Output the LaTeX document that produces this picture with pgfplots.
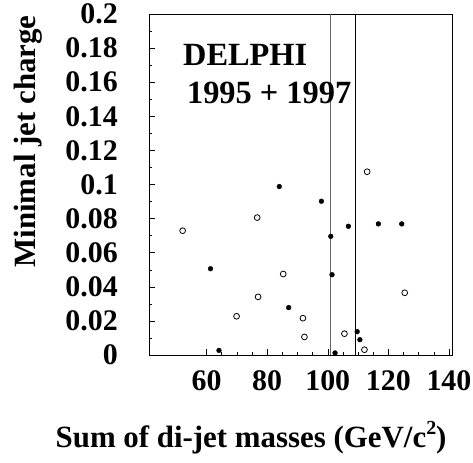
\documentclass[border=0pt]{standalone}
\usepackage{fontspec}
\setmainfont{Liberation Serif}
\usepackage{pgfplots}
\pgfplotsset{compat=1.18}
\begin{document}
\begin{tikzpicture}
\begin{axis}[
  scale only axis,
  width=303bp, height=341bp,
  xmin=41, xmax=141, ymin=0, ymax=0.2,
  xtick={60,80,100,120,140},
  xticklabels={60,80,100,120,140},
  minor x tick num=3,
  ytick={0,0.02,0.04,0.06,0.08,0.1,0.12,0.14,0.16,0.18,0.2},
  yticklabels={0,0.02,0.04,0.06,0.08,0.1,0.12,0.14,0.16,0.18,0.2},
  minor y tick num=1,
  xtick pos=bottom, ytick pos=left,
  tick align=inside,
  major tick length=6bp, minor tick length=3bp,
  tick style={black, line width=0.5pt},
  axis line style={line width=0.9pt},
  every tick label/.append style={font=\fontsize{30}{34}\selectfont\bfseries},
  xticklabel style={inner sep=0pt, anchor=north, yshift=-15bp},
  yticklabel style={inner sep=0pt, anchor=east, xshift=-31bp},
  /pgf/number format/assume math mode=true,
  xlabel={Sum of di-jet masses (GeV/c\raisebox{0.42em}{\fontsize{20}{22}\selectfont 2})},
  ylabel={Minimal jet charge},
  xlabel style={at={(axis description cs:0.337,-0.27)}, anchor=base, inner sep=0pt, font=\fontsize{31}{36}\selectfont\bfseries},
  ylabel style={at={(axis description cs:-0.376,0.626)}, anchor=base, rotate=0, inner sep=0pt, font=\fontsize{31}{36}\selectfont\bfseries},
  clip=false,
]
\addplot[gray!80!black, line width=0.7pt] coordinates {(100.9,0) (100.9,0.2)};
\addplot[black, line width=0.7pt] coordinates {(109.1,0) (109.1,0.2)};
\addplot[only marks, mark=o, mark size=2.9bp, mark options={line width=0.8pt, black}] coordinates {
(52.1,0.0729) (76.7,0.0806) (113.0,0.1075) (85.3,0.0475) (77.0,0.0341)
(69.9,0.0227) (91.8,0.0216) (92.3,0.0106) (105.5,0.0125) (112.1,0.0031)
(125.4,0.0365)
};
\addplot[only marks, mark=*, mark size=2.4bp, mark options={black, fill=black}] coordinates {
(84.0,0.0988) (97.9,0.0902) (101.0,0.0696) (106.8,0.0755) (116.7,0.0769)
(124.4,0.0769) (61.3,0.0506) (101.4,0.0471) (87.1,0.0278) (64.1,0.0027)
(102.4,0.0012) (109.7,0.0137) (110.6,0.0090)
};
\node[anchor=base west, inner sep=0pt, font=\fontsize{32.5}{36}\selectfont\bfseries] at (axis description cs:0.112,0.848) {DELPHI};
\node[anchor=base west, inner sep=0pt, font=\fontsize{32.5}{36}\selectfont\bfseries] at (axis description cs:0.125,0.737) {1995 + 1997};
\end{axis}
\pgfresetboundingbox
\path (current axis.south west) ++(-149bp,-108bp) coordinate (a);
\path (current axis.north east) ++(21bp,14bp) coordinate (b);
\path (a) rectangle (b);
\end{tikzpicture}
\end{document}
